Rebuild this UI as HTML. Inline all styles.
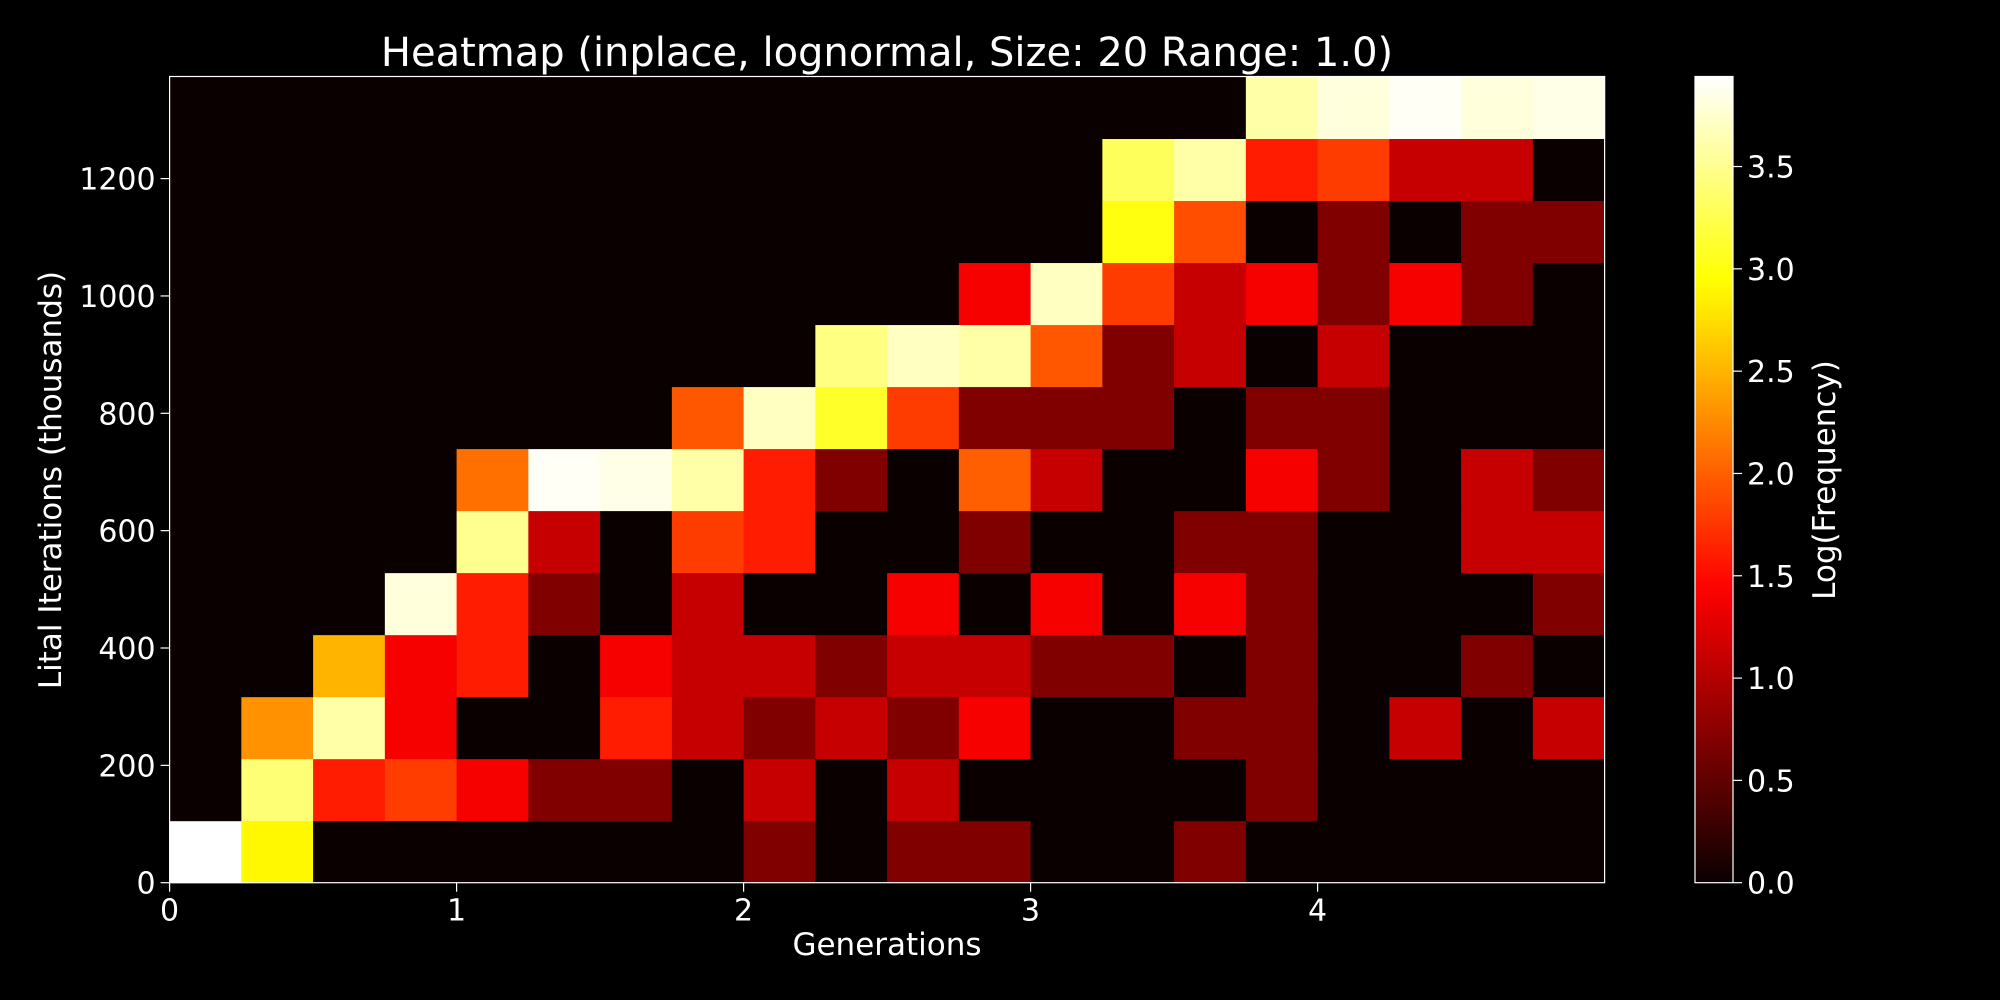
<!DOCTYPE html>
<html><head><meta charset="utf-8"><style>
html,body{margin:0;padding:0;background:#000;}
svg{display:block;font-family:"DejaVu Sans","Liberation Sans",sans-serif;}
</style></head><body>
<svg id="chart" width="2000" height="1000" viewBox="0 0 2000 1000" xmlns="http://www.w3.org/2000/svg">
<rect width="2000" height="1000" fill="#000"/>
<text x="887" y="66" fill="#fff" font-size="40" text-anchor="middle">Heatmap (inplace, lognormal, Size: 20 Range: 1.0)</text>
<g id="cells"></g>
<g id="axes"></g>
<text x="887" y="955" fill="#fff" font-size="31" text-anchor="middle">Generations</text>
<text transform="translate(61,480) rotate(-90)" fill="#fff" font-size="31" text-anchor="middle">Lital Iterations (thousands)</text>
<text transform="translate(1835,480) rotate(-90)" fill="#fff" font-size="31" text-anchor="middle">Log(Frequency)</text>
</svg>
<script>
// data (rows bottom -> top, 20 columns each)
const xTicks = [0,1,2,3,4];
const yTicks = [0,200,400,600,800,1000,1200];
const cbTicks = [0.0,0.5,1.0,1.5,2.0,2.5,3.0,3.5];
const row0  = [3.94,2.9,0,0,0,0,0,0,0.69,0,0.69,0.69,0,0,0.69,0,0,0,0,0];
const row1  = [0,3.4,1.6,1.8,1.39,0.69,0.69,0,1.1,0,1.1,0,0,0,0,0.69,0,0,0,0];
const row2  = [0,2.3,3.6,1.39,0,0,1.6,1.1,0.69,1.1,0.69,1.39,0,0,0.69,0.69,0,1.1,0,1.1];
const row3  = [0,0,2.5,1.39,1.6,0,1.39,1.1,1.1,0.69,1.1,1.1,0.69,0.69,0,0.69,0,0,0.69,0];
const row4  = [0,0,0,3.8,1.6,0.69,0,1.1,0,0,1.39,0,1.39,0,1.39,0.69,0,0,0,0.69];
const row5  = [0,0,0,0,3.5,1.1,0,1.79,1.6,0,0,0.69,0,0,0.69,0.69,0,0,1.1,1.1];
const row6  = [0,0,0,0,2.1,3.9,3.85,3.6,1.6,0.69,0,2.0,1.1,0,0,1.39,0.69,0,1.1,0.69];
const row7  = [0,0,0,0,0,0,0,1.95,3.7,3.1,1.79,0.69,0.69,0.69,0,0.69,0.69,0,0,0];
const row8  = [0,0,0,0,0,0,0,0,0,3.45,3.7,3.6,1.95,0.69,1.1,0,1.1,0,0,0];
const row9  = [0,0,0,0,0,0,0,0,0,0,0,1.39,3.7,1.79,1.1,1.39,0.69,1.39,0.69,0];
const row10 = [0,0,0,0,0,0,0,0,0,0,0,0,0,3.0,1.9,0,0.69,0,0.69,0.69];
const row11 = [0,0,0,0,0,0,0,0,0,0,0,0,0,3.3,3.6,1.6,1.79,1.1,1.1,0];
const row12 = [0,0,0,0,0,0,0,0,0,0,0,0,0,0,0,3.6,3.8,3.9,3.8,3.85];
const rows = [row0,row1,row2,row3,row4,row5,row6,row7,row8,row9,row10,row11,row12];
const xMax = 5, yMax = 1374, vMax = 3.94;

const NS = "http://www.w3.org/2000/svg";
const L = 169.6, R = 1604.6, T = 76.5, B = 882.7;
const xs = v => L + v / xMax * (R - L);
const ys = v => B - v / yMax * (B - T);
const CBL = 1695, CBR = 1733;
const cs = v => B - v / vMax * (B - T);
function hot(v){
  const t = Math.max(0, Math.min(1, v / vMax));
  const r = Math.min(1, 0.0416 + t / 0.365 * 0.9584);
  const g = Math.max(0, Math.min(1, (t - 0.365) / 0.381));
  const b = Math.max(0, Math.min(1, (t - 0.746) / 0.254));
  return `rgb(${Math.round(r*255)},${Math.round(g*255)},${Math.round(b*255)})`;
}
function mk(tag, attrs, parent){
  const e = document.createElementNS(NS, tag);
  for (const k in attrs) e.setAttribute(k, attrs[k]);
  parent.appendChild(e); return e;
}
const cells = document.getElementById('cells');
const nR = rows.length, nC = row0.length;
const rowH = yMax / nR, colW = xMax / nC;
rows.forEach((row, ri) => {
  row.forEach((v, ci) => {
    const x0 = xs(ci * colW), x1 = xs((ci + 1) * colW);
    const y0 = ys((ri + 1) * rowH), y1 = ys(ri * rowH);
    const r = mk('rect', {x: x0, y: y0, width: x1 - x0 + 0.5, height: y1 - y0 + 0.5, fill: hot(v)}, cells);
    
    
  });
});
const ax = document.getElementById('axes');
const frame = mk('rect', {x: L, y: T, width: R - L, height: B - T, fill: 'none', stroke: '#fff', 'stroke-width': 1.2}, ax);


xTicks.forEach(v => {
  const x = xs(v);
  mk('line', {x1: x, x2: x, y1: B, y2: B + 9, stroke: '#fff', 'stroke-width': 1.2}, ax);
  const t = mk('text', {x: x, y: B + 38, fill: '#fff', 'font-size': 30, 'text-anchor': 'middle'}, ax);
  t.textContent = v;
  
  
});
yTicks.forEach(v => {
  const y = ys(v);
  mk('line', {x1: L - 9, x2: L, y1: y, y2: y, stroke: '#fff', 'stroke-width': 1.2}, ax);
  const t = mk('text', {x: L - 14, y: y + 11, fill: '#fff', 'font-size': 30, 'text-anchor': 'end'}, ax);
  t.textContent = v;
  
  
});
// colorbar
const defs = mk('defs', {}, ax);
const grad = mk('linearGradient', {id: 'cbg', x1: 0, y1: 1, x2: 0, y2: 0}, defs);
for (let i = 0; i <= 40; i++) mk('stop', {offset: i / 40, 'stop-color': hot(vMax * i / 40)}, grad);
const cb = mk('rect', {x: CBL, y: T, width: CBR - CBL, height: B - T, fill: 'url(#cbg)', stroke: '#fff', 'stroke-width': 1.2}, ax);


cbTicks.forEach(v => {
  const y = cs(v);
  mk('line', {x1: CBR, x2: CBR + 9, y1: y, y2: y, stroke: '#fff', 'stroke-width': 1.2}, ax);
  const t = mk('text', {x: CBR + 14, y: y + 11, fill: '#fff', 'font-size': 30}, ax);
  t.textContent = v.toFixed(1);
  
  
});
</script>
</body></html>
